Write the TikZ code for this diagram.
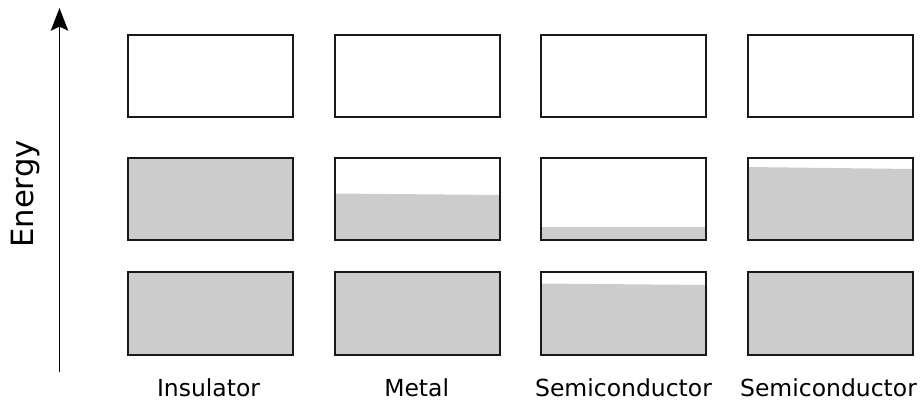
\documentclass[tikz,border=0pt]{standalone}
\usepackage{fontspec}
\setmainfont{DejaVu Sans}
\usetikzlibrary{arrows.meta}
\begin{document}
\begin{tikzpicture}[x=0.75pt,y=-0.75pt,
  band/.style={draw=black!90, line width=1.25pt},
  filled/.style={fill=black!20, draw=none},
  lbl/.style={font=\fontsize{17.6}{21}\selectfont, anchor=base, inner sep=0pt},
  axis/.style={line width=1.3pt, -{Stealth[length=17pt,width=13pt,inset=3pt]}}]
\useasboundingbox (0,0) rectangle (921,400);
% fills
\fill[filled] (128,158) rectangle (293,240);
\fill[filled] (128,272) rectangle (293,355);
\fill[filled] (335,193.5) -- (500,195) -- (500,240) -- (335,240) -- cycle;
\fill[filled] (335,272) rectangle (500,355);
\fill[filled] (541,227) -- (707,227) -- (707,240) -- (541,240) -- cycle;
\fill[filled] (541,283.5) -- (707,285) -- (707,355) -- (541,355) -- cycle;
\fill[filled] (748,167) -- (913,169) -- (913,240) -- (748,240) -- cycle;
\fill[filled] (748,272) rectangle (913,355);
% bands
\foreach \x in {128,335,541,748}{
  \draw[band] (\x,35) rectangle ++(165,82);
  \draw[band] (\x,158) rectangle ++(165,82);
  \draw[band] (\x,272) rectangle ++(165,83);
}
% axis
\coordinate (a0) at (59.5,372);
\coordinate (a1) at (59.5,8);
\draw[axis] (a0) -- (a1);
\node[anchor=base, rotate=90, inner sep=0pt, font=\fontsize{23}{27}\selectfont] (energy) at (33.3,194) {Energy};
% labels
\node[lbl] (ins) at (208.5,396) {Insulator};
\node[lbl] (met) at (416.7,396) {Metal};
\node[lbl] (semi1) at (623.5,396) {Semiconductor};
\node[lbl] (semi2) at (828.5,396) {Semiconductor};
\end{tikzpicture}
\end{document}
